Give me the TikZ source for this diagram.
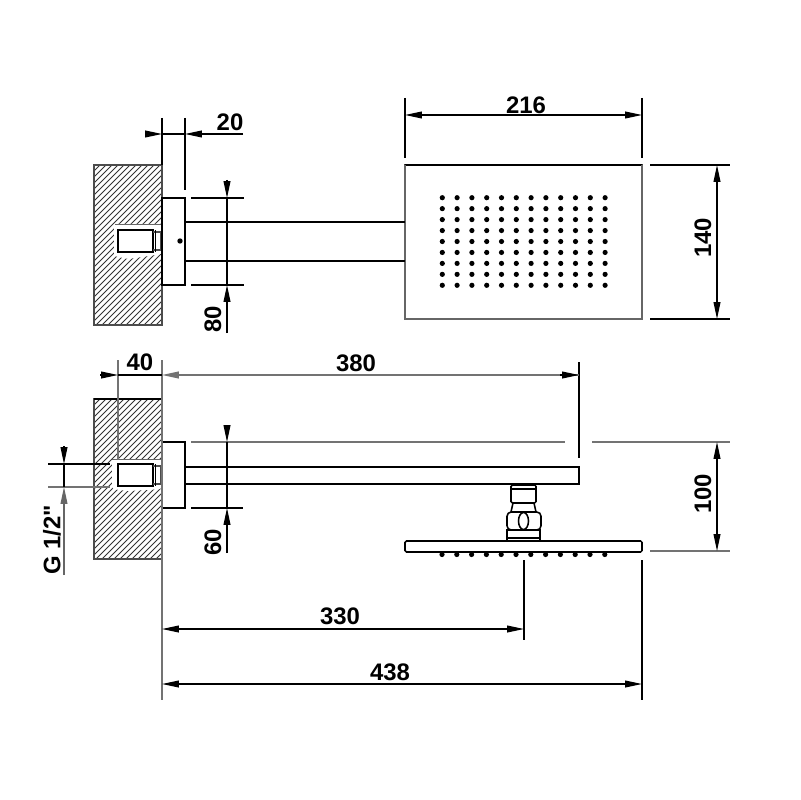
\documentclass[tikz,border=0pt]{standalone}
\usepackage{fontspec}
\newfontfamily\dimfont{Liberation Sans}
\usetikzlibrary{arrows.meta}

\begin{document}
\begin{tikzpicture}[
  x=0.025cm, y=-0.025cm,
  part/.style={draw=black, line width=1.1pt, fill=white},
  ext/.style={draw=black, line width=0.8pt},
  extgrey/.style={draw=black!55, line width=1pt},
  dimline/.style={draw=black, line width=0.8pt},
  dimtip/.style={dimline, -{Triangle[length=0.42cm, width=0.17cm]}},
  dimboth/.style={dimline, {Triangle[length=0.42cm, width=0.17cm]}-{Triangle[length=0.42cm, width=0.17cm]}},
  dimlabel/.style={font=\dimfont\bfseries\fontsize{17}{17}\selectfont, inner sep=0pt},
  hatchline/.style={draw=black!80, line width=0.6pt},
]
\useasboundingbox (0,0) rectangle (800,800);

% walls
\begin{scope}
  \clip (94,165) rectangle (162,325);
  \foreach \i in {0,...,40} {
    \draw[hatchline] (94+\i*6-160,325) -- (94+\i*6,165);
  }
\end{scope}
\draw[draw=black!70, line width=0.8pt] (94,165) rectangle (162,325);
\begin{scope}
  \clip (94,399) rectangle (162,559);
  \foreach \i in {0,...,40} {
    \draw[hatchline] (94+\i*6-160,559) -- (94+\i*6,399);
  }
\end{scope}
\draw[draw=black!70, line width=0.8pt] (94,399) rectangle (162,559);
\draw[draw=black, line width=1pt] (94,399) -- (162,399);

% top view
\fill[white, rounded corners=2pt] (114,224) -- (162,224) -- (162,254) -- (128,259) -- (114,256) -- cycle;
\draw[draw=black!60, line width=0.6pt] (115,224) -- (162,224);
\draw[part] (118,230) rectangle (153,252);
\draw[draw=black!70, line width=0.8pt] (153,232) -- (161,232) -- (161,250) -- (153,250);
\draw[draw=black, line width=0.6pt] (155,230) -- (155,252);
\draw[part] (162,198) rectangle (185,285);
\draw[part, draw=black!75] (405,165) rectangle (642,319);
\draw[draw=black, line width=1.1pt] (405,165) -- (642,165);
\draw[draw=black!60, line width=1.6pt] (405,165) -- (405,319) -- (642,319) -- (642,165);
\draw[part] (185,222) -- (405,222);
\draw[part] (185,261) -- (405,261);
\fill (180,241) circle (2.7);
\foreach \i in {0,...,11} {
  \foreach \j in {0,...,8} {
    \fill (442.3+\i*14.8,197.7+\j*10.95) circle (2.6);
  }
}

% front view
\fill[white, rounded corners=2pt] (112,459) -- (162,459) -- (162,489) -- (128,491) -- (112,489) -- cycle;
\draw[draw=black!60, line width=0.6pt] (112,459) -- (162,459);
\draw[part] (118,464) rectangle (153,486);
\draw[draw=black!70, line width=0.8pt] (153,466) -- (161,466) -- (161,484) -- (153,484);
\draw[draw=black, line width=0.6pt] (155,464) -- (155,486);
\draw[part] (162,442) rectangle (185,508);
\draw[part] (185,467) rectangle (579,484);

% head joint
\draw[part, rounded corners=1pt] (511,485) rectangle (536,503);
\draw[part] (511,489) -- (536,489);
\draw[part] (520.5,503) arc (180:0:3) -- cycle;
\draw[part] (513,503) -- (534,503) -- (536,512) -- (511,512) -- cycle;
\draw[part, rounded corners=3pt] (507,512) rectangle (541,530);
\draw[part] (523.5,521) ellipse (5 and 8.5);
\draw[part] (507,530) rectangle (540,541);
\draw[part] (507,538) -- (540,538);
\draw[part, rounded corners=1pt] (405,541) rectangle (642,552);
\foreach \i in {0,...,11} {
  \fill (442+\i*14.8,554.5) circle (2.6);
}

% dimension 20
\draw[ext] (162,118) -- (162,165);
\draw[ext] (185,118) -- (185,190);
\draw[dimtip] (145,134) -- (162,134);
\draw[dimtip] (243,134) -- (185,134);
\draw[dimline] (162,134) -- (185,134);
\node[dimlabel] (dim20) at (230,122) {20};

% dimension 80
\draw[ext] (191,198) -- (244,198);
\draw[ext] (191,285) -- (244,285);
\draw[dimtip] (227,180) -- (227,198);
\draw[dimtip] (227,333) -- (227,285);
\draw[dimline] (227,198) -- (227,285);
\node[dimlabel, rotate=90] (dim80) at (213,319) {80};

% dimensions 216 and 140
\draw[ext] (405,98) -- (405,158);
\draw[ext] (642,98) -- (642,158);
\draw[dimboth] (405,115) -- (642,115);
\node[dimlabel] (dim216) at (526,105) {216};
\draw[ext] (650,165) -- (730,165);
\draw[ext] (650,319) -- (730,319);
\draw[dimboth] (717,165) -- (717,319);
\node[dimlabel, rotate=90] (dim140) at (703,238) {140};

% dimensions 40 and 380
\draw[extgrey] (118,360) -- (118,460);
\draw[extgrey] (162,360) -- (162,700);
\draw[ext] (579,362) -- (579,458);
\draw[dimtip] (100,375) -- (118,375);
\draw[dimline] (118,375) -- (162,375);
\draw[extgrey, -{Triangle[length=0.42cm, width=0.17cm]}] (579,375) -- (162,375);
\draw[dimtip] (560,375) -- (579,375);
\node[dimlabel] (dim40) at (140,362) {40};
\node[dimlabel] (dim380) at (356,363) {380};

% dimension G 1/2"
\draw[ext] (48,464) -- (110,464);
\draw[extgrey] (48,487) -- (110,487);
\draw[dimtip] (64,446) -- (64,464);
\draw[dimtip, draw=black!60] (64,575) -- (64,487);
\draw[dimline] (64,464) -- (64,487);
\node[dimlabel, rotate=90] (dimG) at (52,540) {G 1/2"};

% dimensions 60 and 100
\draw[extgrey] (191,442) -- (565,442);
\draw[extgrey] (592,442) -- (730,442);
\draw[ext] (191,508) -- (243,508);
\draw[dimtip] (227,425) -- (227,442);
\draw[dimtip] (227,553) -- (227,508);
\draw[dimline] (227,442) -- (227,508);
\node[dimlabel, rotate=90] (dim60) at (213,542) {60};
\draw[extgrey] (650,551) -- (730,551);
\draw[dimboth] (717,442) -- (717,551);
\node[dimlabel, rotate=90] (dim100) at (703,494) {100};

% dimensions 330 and 438
\draw[ext] (524,560) -- (524,640);
\draw[ext] (642,560) -- (642,700);
\draw[dimboth] (162,629) -- (524,629);
\draw[dimboth] (162,684) -- (642,684);
\node[dimlabel] (dim330) at (340,616) {330};
\node[dimlabel] (dim438) at (390,672) {438};

\end{tikzpicture}
\end{document}
